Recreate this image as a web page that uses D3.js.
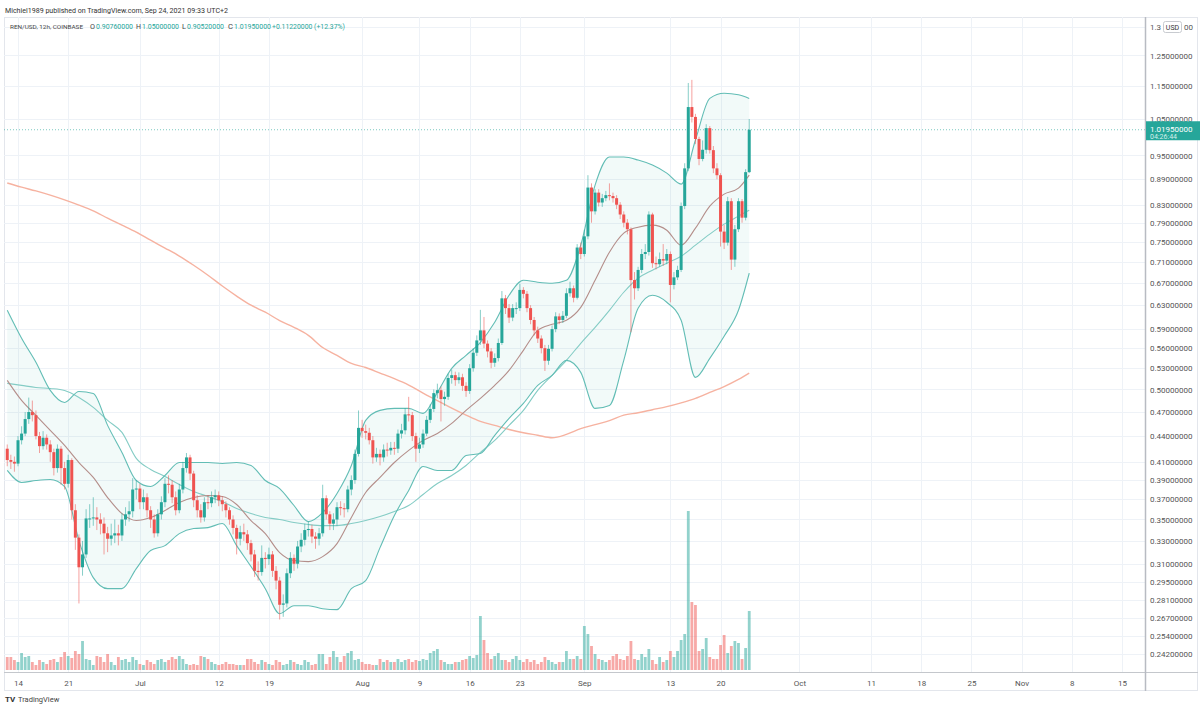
<!DOCTYPE html>
<html>
<head>
<meta charset="utf-8">
<script src="https://cdn.jsdelivr.net/npm/d3@7"></script>
<style>
  body { margin: 0; background: #fff; }
  svg { display: block; font-family: Roboto, "Open Sans", sans-serif; }
</style>
</head>
<body>
<script>
var W = 1200, H = 711;

// REN/USD 12h candles, the first one opens Jun 12 12:00
var firstCandle = Date.UTC(2021, 5, 12, 12);
var firstOpen = 0.425;

var close = [
  .412,.410,.408,.435,.443,.461,.470,.466,.440,.428,
  .438,.430,.421,.403,.425,.403,.386,.412,.359,.333,
  .307,.318,.351,.351,.352,.350,.346,.337,.332,.335,
  .337,.335,.350,.355,.358,.380,.381,.367,.372,.359,
  .350,.337,.355,.367,.386,.385,.372,.359,.380,.403,
  .415,.397,.369,.359,.352,.367,.366,.372,.374,.369,
  .365,.359,.350,.342,.332,.338,.336,.328,.318,.304,
  .303,.315,.314,.318,.304,.296,.277,.278,.302,.315,
  .310,.325,.331,.340,.341,.334,.332,.337,.371,.355,
  .346,.350,.362,.361,.360,.380,.390,.419,.450,.446,
  .444,.435,.415,.419,.415,.424,.423,.426,.425,.443,
  .447,.467,.466,.440,.425,.430,.443,.460,.474,.495,
  .499,.487,.490,.516,.520,.513,.517,.505,.498,.530,
  .553,.572,.588,.567,.555,.538,.545,.568,.642,.625,
  .609,.625,.625,.657,.650,.625,.605,.588,.575,.560,
  .541,.559,.590,.611,.605,.612,.651,.660,.643,.738,
  .725,.761,.870,.815,.858,.835,.845,.852,.850,.845,
  .830,.808,.790,.776,.675,.660,.694,.725,.729,.808,
  .707,.705,.715,.712,.725,.666,.680,.694,.827,.917,
  1.085,1.056,.994,.941,.965,1.024,.964,.917,.900,.771,
  .748,.838,.714,.776,.838,.801,.9076,1.0195
];

var high = [
  .430,.418,.416,.440,.452,.470,.489,.485,.472,.445,
  .446,.442,.435,.425,.430,.428,.410,.418,.414,.365,
  .336,.330,.360,.365,.372,.362,.356,.352,.343,.346,
  .350,.345,.356,.362,.368,.392,.390,.386,.380,.376,
  .363,.355,.360,.373,.392,.395,.390,.378,.386,.410,
  .420,.418,.400,.374,.365,.372,.374,.378,.380,.378,
  .373,.368,.362,.354,.345,.344,.346,.340,.331,.322,
  .312,.326,.320,.324,.321,.308,.299,.285,.306,.320,
  .318,.330,.337,.346,.348,.345,.338,.342,.385,.374,
  .358,.356,.367,.368,.366,.384,.395,.424,.472,.460,
  .454,.450,.440,.426,.424,.430,.432,.433,.433,.448,
  .455,.475,.490,.470,.444,.438,.448,.465,.480,.500,
  .508,.504,.497,.522,.528,.525,.524,.522,.510,.536,
  .560,.580,.622,.610,.572,.560,.552,.575,.655,.648,
  .632,.632,.635,.668,.662,.655,.630,.610,.594,.580,
  .565,.565,.596,.618,.616,.620,.660,.672,.665,.745,
  .748,.775,.900,.880,.866,.866,.855,.862,.880,.858,
  .852,.836,.815,.798,.780,.690,.700,.735,.745,.815,
  .812,.720,.728,.745,.735,.730,.690,.702,.835,.930,
  1.159,1.169,1.065,1.000,.990,1.035,1.030,.975,.930,.905,
  .785,.848,.845,.785,.845,.843,.915,1.050
];

var low = [
  .405,.402,.399,.405,.430,.440,.455,.458,.436,.420,
  .424,.424,.410,.395,.398,.385,.380,.382,.350,.322,
  .278,.300,.315,.342,.344,.340,.336,.318,.320,.326,
  .328,.326,.330,.344,.348,.352,.370,.360,.360,.352,
  .342,.333,.334,.350,.362,.376,.366,.354,.356,.376,
  .398,.390,.362,.352,.347,.348,.360,.362,.366,.363,
  .358,.352,.345,.336,.318,.326,.330,.322,.312,.299,
  .296,.300,.306,.309,.299,.289,.266,.268,.275,.298,
  .304,.306,.320,.326,.334,.328,.323,.326,.334,.350,
  .340,.340,.344,.354,.352,.357,.374,.386,.416,.438,
  .436,.430,.408,.410,.406,.410,.416,.418,.418,.420,
  .437,.442,.458,.434,.410,.420,.426,.440,.456,.470,
  .488,.458,.478,.486,.508,.505,.508,.498,.490,.494,
  .525,.548,.565,.560,.546,.530,.532,.540,.565,.615,
  .600,.603,.615,.620,.642,.618,.598,.580,.568,.552,
  .526,.535,.555,.585,.598,.600,.608,.645,.635,.640,
  .715,.720,.755,.790,.808,.826,.825,.838,.840,.835,
  .820,.798,.780,.765,.585,.640,.655,.688,.715,.722,
  .698,.695,.700,.702,.705,.635,.658,.675,.690,.820,
  .910,1.040,.980,.925,.935,.955,.955,.905,.890,.740,
  .735,.742,.694,.700,.770,.790,.795,.9052
];

// volume, millions of REN
var volume = [
  1.3,1.3,1.0,0.8,1.7,1.3,1.4,0.8,0.5,1.0,
  0.8,0.6,1.0,1.1,0.8,1.3,1.8,1.4,1.2,1.9,
  1.6,2.9,1.1,1.0,0.5,1.4,1.3,0.8,1.6,0.8,
  0.5,1.3,1.0,1.1,0.8,1.3,1.0,0.6,0.5,1.0,
  0.8,0.6,1.0,1.1,0.8,1.0,1.3,1.1,1.4,1.1,
  0.6,0.5,0.6,0.5,1.4,1.3,1.1,0.8,0.6,0.5,
  0.6,0.8,0.6,0.6,0.5,0.5,0.5,1.1,1.1,0.8,
  0.6,1.0,0.8,0.6,0.5,1.0,0.8,0.5,0.6,1.0,
  0.8,0.6,0.5,1.0,0.8,0.5,0.6,1.6,1.6,0.6,
  1.3,1.9,1.3,0.8,1.4,1.7,1.9,1.0,1.1,0.8,
  0.6,0.6,0.5,0.5,1.1,0.8,1.0,0.8,0.8,1.1,
  0.8,1.0,1.1,0.8,1.0,0.9,1.1,1.0,1.7,1.9,
  2.1,1.0,0.8,0.6,0.6,0.8,0.8,1.0,1.1,1.4,
  1.2,1.5,5.4,3.0,1.7,1.1,1.4,1.7,1.0,1.0,
  0.8,1.1,1.4,1.0,0.8,1.1,0.8,1.0,0.6,0.8,
  1.3,1.0,0.8,0.6,0.8,0.8,1.9,1.1,1.1,1.4,
  1.1,4.4,3.6,2.4,1.6,1.1,1.0,0.8,1.0,1.4,
  1.6,1.1,1.0,1.4,2.9,1.1,1.0,1.6,1.3,2.1,
  1.0,0.6,1.3,0.8,1.0,1.9,1.3,1.9,3.0,3.6,
  15.9,6.8,6.5,1.9,2.1,3.2,1.3,1.1,1.1,2.5,
  3.5,1.7,2.4,2.9,2.7,1.1,2.2,5.9
];

// indicator values read every 4th candle, plus the last one
var bbUpper = [.6213,.5753,.5386,.4987,.4825,.4973,.4946,.4531,.4207,.3895,.3831,.3949,.4092,.4092,.4092,.4081,.4092,.4059,.3895,.3810,.3637,.3480,.3567,.3759,.4059,.4593,.4721,.4747,.4747,.4683,.4960,.5298,.5491,.5691,.6012,.6474,.6747,.6710,.6692,.6747,.7428,.8759,.9459,.9459,.9381,.9253,.9052,.8783,.9911,1.111,1.127,1.122,1.111];
var bbMiddle = [.5126,.4852,.4657,.4469,.4288,.4092,.3928,.3717,.3557,.3490,.3519,.3587,.3667,.3717,.3738,.3728,.3647,.3490,.3367,.3196,.3127,.3118,.3161,.3276,.3519,.3769,.3928,.4092,.4230,.4348,.4432,.4556,.4721,.4879,.5056,.5269,.5567,.5881,.5979,.6045,.6264,.6747,.7286,.7677,.7804,.7847,.7740,.7428,.7783,.8267,.8545,.8687,.9003];
var bbLower = [.4004,.3874,.3895,.3906,.3831,.3303,.2984,.2895,.2895,.3059,.3214,.3258,.3367,.3414,.3423,.3461,.3258,.3076,.2895,.2703,.2763,.2763,.2740,.2733,.2895,.2960,.3240,.3538,.3790,.4048,.4004,.4004,.4172,.4195,.4408,.4619,.4812,.5056,.5197,.5416,.5240,.4747,.4786,.5416,.6247,.6474,.6351,.6045,.5168,.5446,.5785,.6213,.6878];
var ma50 = [.5084,.5056,.5028,.5014,.4987,.4892,.4760,.4593,.4444,.4138,.4015,.3938,.3853,.3780,.3728,.3677,.3607,.3557,.3519,.3500,.3471,.3452,.3442,.3442,.3461,.3490,.3528,.3577,.3637,.3748,.3863,.3949,.4059,.4207,.4348,.4531,.4721,.4987,.5197,.5416,.5675,.5929,.6213,.6528,.6784,.6935,.7069,.7206,.7428,.7656,.7869,.8044,.8177];
var ma200 = [.881,.871,.862,.852,.841,.829,.816,.800,.785,.770,.753,.737,.721,.703,.684,.664,.646,.630,.618,.604,.593,.580,.561,.549,.537,.531,.523,.515,.506,.495,.485,.475,.466,.458,.453,.448,.444,.441,.438,.442,.449,.454,.459,.466,.469,.473,.477,.482,.488,.496,.504,.514,.523];

var priceTicks = [1.35,1.25,1.15,1.05,0.95,0.89,0.83,0.79,0.75,0.71,0.67,0.63,0.59,0.56,0.53,0.50,0.47,0.44,0.41,0.39,0.37,0.35,0.33,0.31,0.295,0.281,0.267,0.254,0.242];
var tickDates = ["2021-06-14","2021-06-21","2021-07-01","2021-07-12","2021-07-19","2021-08-01","2021-08-09","2021-08-16","2021-08-23","2021-09-01","2021-09-13","2021-09-20","2021-10-01","2021-10-11","2021-10-18","2021-10-25","2021-11-01","2021-11-08","2021-11-15"];
var tickLabels = ["14","21","Jul","12","19","Aug","9","16","23","Sep","13","20","Oct","11","18","25","Nov","8","15"];

var lastPrice = 1.0195;

var UP = "#26a69a", DOWN = "#ef5350";
var HALF_DAY = 12 * 3600 * 1000;
var parseDay = d3.utcParse("%Y-%m-%d");
var fmt = d3.format(".8f");

var chartL = 4, chartR = 1145, chartT = 17, chartB = 672;

var x = d3.scaleUtc()
  .domain([Date.UTC(2021, 5, 14), Date.UTC(2021, 10, 15)])
  .range([18, 1122]);
var y = d3.scaleLog().domain([0.242, 1.05]).range([654, 119]);
var yVol = d3.scaleLinear().domain([0, 16]).range([670, 510]);

var candles = close.map(function(c, i) {
  return {
    t: new Date(firstCandle + i * HALF_DAY),
    o: i === 0 ? firstOpen : close[i - 1],
    h: high[i], l: low[i], c: c, v: volume[i]
  };
});

var indIdx = d3.range(0, close.length - 1, 4).concat([close.length - 1]);
var indTime = function(k) { return new Date(firstCandle + indIdx[k] * HALF_DAY); };

var svg = d3.select("body").append("svg").attr("width", W).attr("height", H);

svg.append("defs").append("clipPath").attr("id", "clip").append("rect")
  .attr("x", chartL).attr("y", chartT)
  .attr("width", chartR - chartL).attr("height", chartB - chartT);

// header
svg.append("text").attr("x", 5).attr("y", 13)
  .attr("font-size", 7.6).attr("fill", "#333")
  .attr("textLength", 223).attr("lengthAdjust", "spacingAndGlyphs")
  .text("Michiel1989 published on TradingView.com, Sep 24, 2021 09:33 UTC+2");

svg.append("rect").attr("x", 4.5).attr("y", 17.5).attr("width", 1193).attr("height", 673)
  .attr("fill", "none").attr("stroke", "#e3e6ec");

// grid
var grid = svg.append("g");
grid.selectAll("line.h").data(priceTicks).enter().append("line")
  .attr("x1", chartL).attr("x2", chartR)
  .attr("y1", function(d) { return Math.round(y(d)) + 0.5; })
  .attr("y2", function(d) { return Math.round(y(d)) + 0.5; })
  .attr("stroke", "#eef2f7");
grid.selectAll("line.v").data(tickDates).enter().append("line")
  .attr("y1", chartT).attr("y2", chartB)
  .attr("x1", function(d) { return Math.round(x(parseDay(d))) + 0.5; })
  .attr("x2", function(d) { return Math.round(x(parseDay(d))) + 0.5; })
  .attr("stroke", "#eef2f7");

// legend row
var legendParts = [
  {x: 10, w: 73, fs: 6.1, fill: "#444", s: "REN/USD, 12h, COINBASE"},
  {x: 90, w: 5, fs: 7.2, fill: "#444", s: "O"}, {x: 96, w: 37, fs: 7.2, fill: UP, s: "0.90760000"},
  {x: 136, w: 5, fs: 7.2, fill: "#444", s: "H"}, {x: 142, w: 37, fs: 7.2, fill: UP, s: "1.05000000"},
  {x: 182, w: 4, fs: 7.2, fill: "#444", s: "L"}, {x: 187, w: 37, fs: 7.2, fill: UP, s: "0.90520000"},
  {x: 228, w: 5, fs: 7.2, fill: "#444", s: "C"}, {x: 234, w: 37, fs: 7.2, fill: UP, s: "1.01950000"},
  {x: 272, w: 73, fs: 7.2, fill: UP, s: "+0.11220000 (+12.37%)"}
];
svg.append("g").selectAll("text").data(legendParts).enter().append("text")
  .attr("x", function(d) { return d.x; }).attr("y", 29)
  .attr("font-size", function(d) { return d.fs; }).attr("fill", function(d) { return d.fill; })
  .attr("textLength", function(d) { return d.w; }).attr("lengthAdjust", "spacingAndGlyphs")
  .text(function(d) { return d.s; });

var plot = svg.append("g").attr("clip-path", "url(#clip)");

// Bollinger band fill and lines
var band = d3.area()
  .x(function(d, k) { return x(indTime(k)); })
  .y0(function(d, k) { return y(bbLower[k]); })
  .y1(function(d, k) { return y(bbUpper[k]); })
  .curve(d3.curveMonotoneX);
plot.append("path").attr("d", band(bbUpper)).attr("fill", UP).attr("fill-opacity", 0.06);

function indLine(vals, color, width) {
  var line = d3.line()
    .x(function(d, k) { return x(indTime(k)); })
    .y(function(d) { return y(d); })
    .curve(d3.curveMonotoneX);
  plot.append("path").attr("d", line(vals))
    .attr("fill", "none").attr("stroke", color).attr("stroke-width", width);
}
indLine(ma200, "#f6b2a0", 1.4);
indLine(ma50, "#84ccc5", 1.1);
indLine(bbUpper, "#62bdb5", 1.1);
indLine(bbLower, "#62bdb5", 1.1);
indLine(bbMiddle, "#b48e8a", 1.1);

// volume
plot.selectAll("rect.vol").data(candles).enter().append("rect")
  .attr("x", function(d) { return x(d.t) - 1.4; })
  .attr("width", 2.8)
  .attr("y", function(d) { return yVol(d.v); })
  .attr("height", function(d) { return yVol(0) - yVol(d.v); })
  .attr("fill", function(d) { return d.c >= d.o ? UP : DOWN; })
  .attr("fill-opacity", 0.5);

// last price line
plot.append("line")
  .attr("x1", chartL).attr("x2", chartR)
  .attr("y1", y(lastPrice)).attr("y2", y(lastPrice))
  .attr("stroke", UP).attr("stroke-dasharray", "1,2").attr("stroke-opacity", 0.6);

// candles
var cg = plot.selectAll("g.candle").data(candles).enter().append("g");
cg.append("line")
  .attr("x1", function(d) { return x(d.t); })
  .attr("x2", function(d) { return x(d.t); })
  .attr("y1", function(d) { return y(d.h); })
  .attr("y2", function(d) { return y(d.l); })
  .attr("stroke", function(d) { return d.c >= d.o ? UP : DOWN; })
  .attr("stroke-opacity", 0.55)
  .attr("stroke-width", 1);
cg.append("rect")
  .attr("x", function(d) { return x(d.t) - 1.5; })
  .attr("width", 3)
  .attr("y", function(d) { return y(Math.max(d.o, d.c)); })
  .attr("height", function(d) { return Math.max(1, Math.abs(y(d.o) - y(d.c))); })
  .attr("fill", function(d) { return d.c >= d.o ? UP : DOWN; });

// axes
var yAxis = svg.append("g").attr("transform", "translate(" + chartR + ",0)")
  .call(d3.axisRight(y).tickValues(priceTicks)
    .tickFormat(function(d) { return d === 1.35 ? "1.3" : fmt(d); })
    .tickSize(0).tickPadding(5));
yAxis.select(".domain").remove();
yAxis.selectAll("text").attr("font-size", 8).attr("fill", "#555").attr("font-family", "Roboto, sans-serif");

var xAxis = svg.append("g").attr("transform", "translate(0," + chartB + ")")
  .call(d3.axisBottom(x).tickValues(tickDates.map(parseDay))
    .tickFormat(function(d, i) { return tickLabels[i]; }).tickSize(0).tickPadding(8));
xAxis.select(".domain").remove();
xAxis.selectAll("text").attr("font-size", 8).attr("fill", "#555").attr("font-family", "Roboto, sans-serif");

svg.append("line").attr("x1", 4).attr("x2", 1198).attr("y1", chartB + 0.5).attr("y2", chartB + 0.5)
  .attr("stroke", "#c4c7cc");
svg.append("line").attr("x1", chartR + 0.5).attr("x2", chartR + 0.5).attr("y1", chartT).attr("y2", 691)
  .attr("stroke", "#b8bbc2").attr("stroke-width", 1.5);

// USD badge sits over the top price label, the tail "00" shows past it
svg.append("rect").attr("x", 1163.5).attr("y", 21.5).attr("width", 18).attr("height", 11).attr("rx", 2)
  .attr("fill", "#fff").attr("stroke", "#c8cbd0");
svg.append("text").attr("x", 1172.5).attr("y", 29.8).attr("text-anchor", "middle")
  .attr("font-size", 7).attr("fill", "#333").text("USD");
svg.append("text").attr("x", 1184).attr("y", y(1.35) + 2.8)
  .attr("font-size", 8).attr("fill", "#555").text("00");

// current price tag
svg.append("rect").attr("x", chartR + 1).attr("y", y(lastPrice) - 8.5).attr("width", 54).attr("height", 19)
  .attr("fill", UP);
svg.append("text").attr("x", chartR + 5).attr("y", y(lastPrice) + 2)
  .attr("font-size", 8).attr("fill", "#fff").text(fmt(lastPrice));
svg.append("text").attr("x", chartR + 5).attr("y", y(lastPrice) + 9.5)
  .attr("font-size", 7).attr("fill", "#d5f0ec").text("04:26:44");

// footer logo
svg.append("text").attr("x", 5).attr("y", 702).attr("font-size", 8).attr("font-weight", "bold")
  .attr("fill", "#333").text("TV");
svg.append("text").attr("x", 18).attr("y", 702).attr("font-size", 7.5)
  .attr("fill", "#444").text("TradingView");
</script>
</body>
</html>
